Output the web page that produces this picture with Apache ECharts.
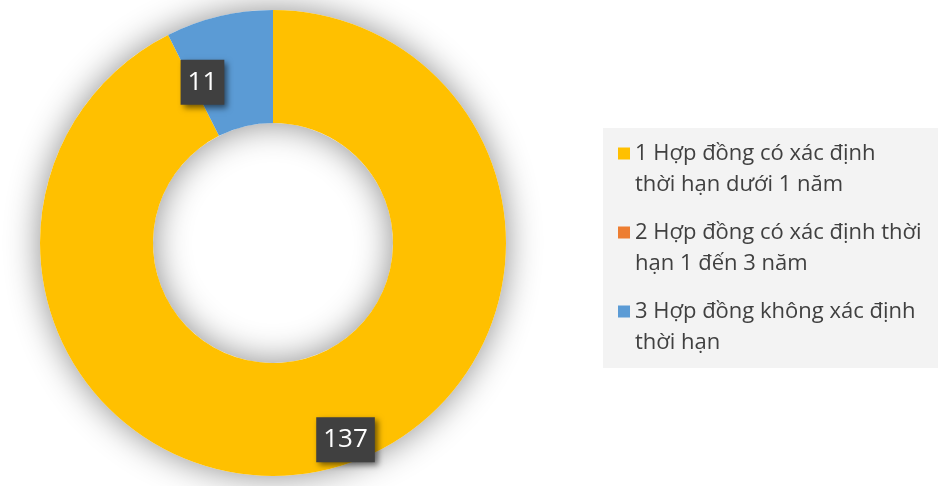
<!DOCTYPE html>
<html>
<head>
<meta charset="utf-8">
<script src="https://cdn.jsdelivr.net/npm/echarts@6/dist/echarts.min.js"></script>
<style>
html,body{margin:0;padding:0;background:#fff;}
#chart{width:944px;height:486px;}
</style>
</head>
<body>
<div id="chart"></div>
<script>
const categories = [
  '1 Hợp đồng có xác định\nthời hạn dưới 1 năm',
  '2 Hợp đồng có xác định thời\nhạn 1 đến 3 năm',
  '3 Hợp đồng không xác định\nthời hạn'
];
const values = [137, 0, 11];
const colors = ['#FFC000', '#ED7D31', '#5B9BD5'];

const total = values.reduce((a, b) => a + b, 0);
const CENTER = [273, 243];
const RADIUS = [120, 233];
const labelOffsets = [[31, 22], [0, 0], [-29, 14]];

const chart = echarts.init(document.getElementById('chart'), null, {renderer: 'canvas'});
chart.setOption({
  animation: false,
  backgroundColor: '#ffffff',
  color: colors,
  legend: {
    orient: 'vertical',
    left: 603,
    top: 128,
    data: categories,
    selectedMode: false,
    icon: 'path://M0,0M0,9.5L12,9.5L12,21.5L0,21.5ZM12,62',
    itemWidth: 12,
    itemHeight: 62,
    itemGap: 17,
    padding: [10, 6, 10, 15],
    backgroundColor: '#f3f3f3',
    itemStyle: {borderWidth: 0},
    textStyle: {
      fontFamily: 'Open Sans',
      fontSize: 22,
      lineHeight: 31,
      color: '#404040',
      width: 297
    }
  },
  series: [
    {
      type: 'pie',
      silent: true,
      z: 1,
      center: CENTER,
      radius: RADIUS,
      label: {show: false},
      labelLine: {show: false},
      itemStyle: {
        color: '#ffffff',
        borderWidth: 0,
        shadowBlur: 34,
        shadowColor: 'rgba(0,0,0,0.45)'
      },
      emphasis: {disabled: true},
      data: [{value: total, name: 'shadow'}]
    },
    {
      type: 'pie',
      z: 2,
      center: CENTER,
      radius: RADIUS,
      startAngle: 90,
      clockwise: true,
      avoidLabelOverlap: false,
      itemStyle: {borderWidth: 0},
      emphasis: {disabled: true},
      labelLine: {show: false},
      label: {
        show: true,
        position: 'inside',
        formatter: '{c}',
        fontFamily: 'Open Sans',
        fontSize: 26,
        lineHeight: 31,
        color: '#ffffff',
        backgroundColor: '#404040',
        padding: [7, 7, 7, 7],
        shadowColor: 'rgba(0,0,0,0.55)',
        shadowBlur: 6,
        shadowOffsetX: 3,
        shadowOffsetY: 3
      },
      labelLayout: function (params) {
        const o = labelOffsets[params.dataIndex] || [0, 0];
        return {dx: o[0], dy: o[1]};
      },
      data: categories.map((name, i) => ({
        name: name,
        value: values[i],
        itemStyle: {color: colors[i]},
        label: {show: values[i] > 0}
      }))
    }
  ]
});
</script>
</body>
</html>
